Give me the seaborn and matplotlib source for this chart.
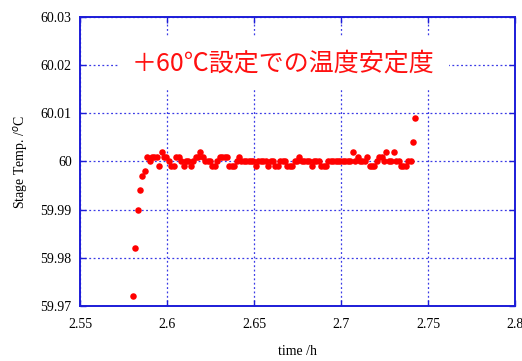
import numpy as np
import pandas as pd
import matplotlib
matplotlib.use("Agg")
import matplotlib.pyplot as plt
import seaborn as sns

# Sampling times [h] (logger interval ~5 s)
time_h = [
    2.5803, 2.5817, 2.5831, 2.5845, 2.5859, 2.5872, 2.5886, 2.5900, 2.5914, 2.5928,
    2.5942, 2.5956, 2.5970, 2.5984, 2.5997, 2.6011, 2.6025, 2.6039, 2.6053, 2.6067,
    2.6081, 2.6095, 2.6109, 2.6122, 2.6136, 2.6150, 2.6164, 2.6178, 2.6192, 2.6206,
    2.6220, 2.6234, 2.6247, 2.6261, 2.6275, 2.6289, 2.6303, 2.6317, 2.6331, 2.6345,
    2.6359, 2.6372, 2.6386, 2.6400, 2.6414, 2.6428, 2.6442, 2.6456, 2.6470, 2.6484,
    2.6497, 2.6511, 2.6525, 2.6539, 2.6553, 2.6567, 2.6581, 2.6595, 2.6609, 2.6622,
    2.6636, 2.6650, 2.6664, 2.6678, 2.6692, 2.6706, 2.6720, 2.6734, 2.6747, 2.6761,
    2.6775, 2.6789, 2.6803, 2.6817, 2.6831, 2.6845, 2.6859, 2.6872, 2.6886, 2.6900,
    2.6914, 2.6928, 2.6942, 2.6956, 2.6970, 2.6984, 2.6997, 2.7011, 2.7025, 2.7039,
    2.7053, 2.7067, 2.7081, 2.7095, 2.7109, 2.7122, 2.7136, 2.7150, 2.7164, 2.7178,
    2.7192, 2.7206, 2.7220, 2.7234, 2.7247, 2.7261, 2.7275, 2.7289, 2.7303, 2.7317,
    2.7331, 2.7345, 2.7359, 2.7372, 2.7386, 2.7400, 2.7414, 2.7428,
]

# Stage temperature [degC]
stage_temp = [
    59.972, 59.982, 59.990, 59.994, 59.997, 59.998, 60.001, 60.000, 60.001, 60.001,
    60.001, 59.999, 60.002, 60.001, 60.001, 60.000, 59.999, 59.999, 60.001, 60.001,
    60.000, 59.999, 60.000, 60.000, 59.999, 60.000, 60.001, 60.001, 60.002, 60.001,
    60.000, 60.000, 60.000, 59.999, 59.999, 60.000, 60.001, 60.001, 60.001, 60.001,
    59.999, 59.999, 59.999, 60.000, 60.001, 60.000, 60.000, 60.000, 60.000, 60.000,
    60.000, 59.999, 60.000, 60.000, 60.000, 60.000, 59.999, 60.000, 60.000, 59.999,
    59.999, 60.000, 60.000, 60.000, 59.999, 59.999, 59.999, 60.000, 60.000, 60.001,
    60.000, 60.000, 60.000, 60.000, 59.999, 60.000, 60.000, 60.000, 59.999, 59.999,
    59.999, 60.000, 60.000, 60.000, 60.000, 60.000, 60.000, 60.000, 60.000, 60.000,
    60.000, 60.002, 60.000, 60.001, 60.000, 60.000, 60.000, 60.001, 59.999, 59.999,
    59.999, 60.000, 60.001, 60.001, 60.000, 60.002, 60.000, 60.000, 60.002, 60.000,
    60.000, 59.999, 59.999, 59.999, 60.000, 60.000, 60.004, 60.009,
]

x_ticks = [2.55, 2.6, 2.65, 2.7, 2.75, 2.8]
x_tick_labels = ["2.55", "2.6", "2.65", "2.7", "2.75", "2.8"]
y_ticks = [59.97, 59.98, 59.99, 60.0, 60.01, 60.02, 60.03]
y_tick_labels = ["59.97", "59.98", "59.99", "60", "60.01", "60.02", "60.03"]

title_text = "＋60℃設定での温度安定度"

df = pd.DataFrame({"time": time_h, "temp": stage_temp})

sns.set_theme(style="white")
plt.rcParams["font.family"] = ["Liberation Serif", "DejaVu Serif"]

axis_blue = "#1c1cd8"
grid_blue = "#3a3ae6"

fig = plt.figure(figsize=(5.22, 3.61), dpi=100)
ax = fig.add_axes([0.1533, 0.1524, 0.8333, 0.8005])

sns.scatterplot(data=df, x="time", y="temp", ax=ax, color="#ff0000",
                s=22, linewidth=0, zorder=3, legend=False)

ax.set_xlim(2.55, 2.8)
ax.set_ylim(59.97, 60.03)
ax.set_xticks(x_ticks)
ax.set_xticklabels(x_tick_labels)
ax.set_yticks(y_ticks)
ax.set_yticklabels(y_tick_labels)

ax.grid(True, color=grid_blue, linestyle=(0, (1.5, 2.0)), linewidth=0.9)
ax.set_axisbelow(True)

for sp in ax.spines.values():
    sp.set_color(axis_blue)
    sp.set_linewidth(1.4)
    sp.set_visible(True)

ax.tick_params(axis="both", direction="in", length=4, width=1.0,
               color=axis_blue, labelcolor="black", labelsize=10,
               top=True, right=True, bottom=True, left=True)
ax.tick_params(axis="x", pad=9)
ax.tick_params(axis="y", pad=6)

ax.set_xlabel("time /h", fontsize=10, color="black", labelpad=10)
ax.set_ylabel("Stage Temp. /$^o$C", fontsize=10, color="black", labelpad=7)

ax.text(0.467, 0.84, title_text, transform=ax.transAxes,
        ha="center", va="center", color="#ff1010", fontsize=18,
        family=["Noto Sans CJK JP", "DejaVu Sans"], zorder=4,
        bbox=dict(facecolor="white", edgecolor="none", pad=10))

fig.savefig("out.png", dpi=100, facecolor="white")
